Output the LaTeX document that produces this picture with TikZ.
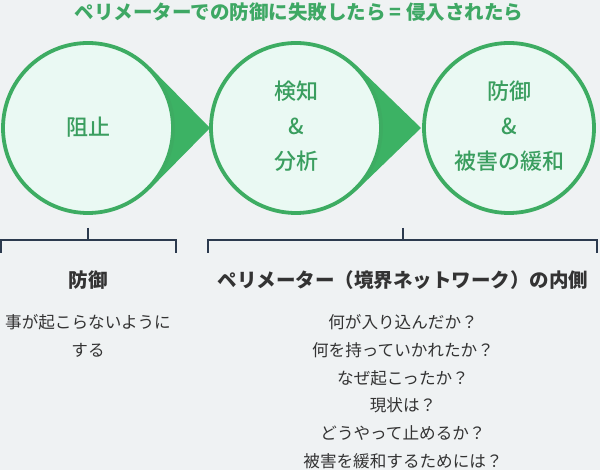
\documentclass[tikz,border=0pt]{standalone}
\usepackage{fontspec}
\setmainfont{Noto Sans CJK JP}
\newfontfamily\medfont{Noto Sans CJK JP Medium}
\usetikzlibrary{calc,backgrounds}
\definecolor{bg}{RGB}{239,242,243}
\definecolor{cfill}{RGB}{234,249,243}
\definecolor{cstroke}{RGB}{61,172,98}
\definecolor{tri}{RGB}{60,178,100}
\definecolor{ctext}{RGB}{58,158,95}
\definecolor{ttext}{RGB}{62,168,100}
\definecolor{brk}{RGB}{44,58,78}
\definecolor{dtext}{RGB}{51,51,51}
\tikzset{
  stage/.style={circle,draw=cstroke,line width=3.8pt,fill=cfill,minimum size=170pt,inner sep=0pt},
  ctxt/.style={text=ctext,font=\medfont\fontsize{22}{26}\selectfont,inner sep=0pt},
  ttl/.style={text=ttext,font=\fontsize{19.5}{23}\selectfont\bfseries,inner sep=0pt},
  head/.style={text=dtext,font=\fontsize{19.5}{23}\selectfont\bfseries,inner sep=0pt},
  body/.style={text=dtext,font=\fontsize{16.6}{20}\selectfont,inner sep=0pt},
  brace/.style={draw=brk,line width=2pt},
  arrowfill/.style={fill=tri}
}
\begin{document}
\begin{tikzpicture}[x=1pt,y=-1pt]
\useasboundingbox (0,0) rectangle (600,470);
\node[ttl] (title) at (299,12) {ペリメーターでの防御に失敗したら = 侵入されたら};
\node[stage] (c1) at (88,128) {};
\node[stage] (c2) at (296,128) {};
\node[stage] (c3) at (509,128) {};
\coordinate (t1) at (210,128);
\coordinate (t2) at (421,128);
\begin{scope}[on background layer]
  \fill[bg] (0,0) rectangle (600,470);
  \fill[arrowfill] (tangent cs:node=c1,point={(t1)},solution=1) -- (t1) -- (tangent cs:node=c1,point={(t1)},solution=2) -- (c1.center) -- cycle;
  \fill[arrowfill] (tangent cs:node=c2,point={(t2)},solution=1) -- (t2) -- (tangent cs:node=c2,point={(t2)},solution=2) -- (c2.center) -- cycle;
\end{scope}
\node[ctxt] (a1) at (88,127) {阻止};
\node[ctxt] (b1) at (296,91) {検知};
\node[ctxt] (b2) at (296,126) {\&};
\node[ctxt] (b3) at (296,161) {分析};
\node[ctxt] (d1) at (509,91) {防御};
\node[ctxt] (d2) at (509,126) {\&};
\node[ctxt] (d3) at (509,161) {被害の緩和};
% brackets
\coordinate (k1) at (88,228);
\coordinate (k2) at (403,228);
\draw[brace] (1,253) -- (1,240) -- (176,240) -- (176,253);
\draw[brace] (k1) -- (88,240);
\draw[brace] (208,253) -- (208,240) -- (597,240) -- (597,253);
\draw[brace] (k2) -- (403,240);
\node[head] (h1) at (88,280) {防御};
\node[head] (h2) at (403,280) {ペリメーター（境界ネットワーク）の内側};
\node[body] (p1) at (88,322) {事が起こらないように};
\node[body] (p2) at (88,350) {する};
\node[body] (l1) at (403,322) {何が入り込んだか？};
\node[body] (l2) at (403,350) {何を持っていかれたか？};
\node[body] (l3) at (403,378) {なぜ起こったか？};
\node[body] (l4) at (403,405) {現状は？};
\node[body] (l5) at (403,433) {どうやって止めるか？};
\node[body] (l6) at (403,461) {被害を緩和するためには？};
\end{tikzpicture}
\end{document}
